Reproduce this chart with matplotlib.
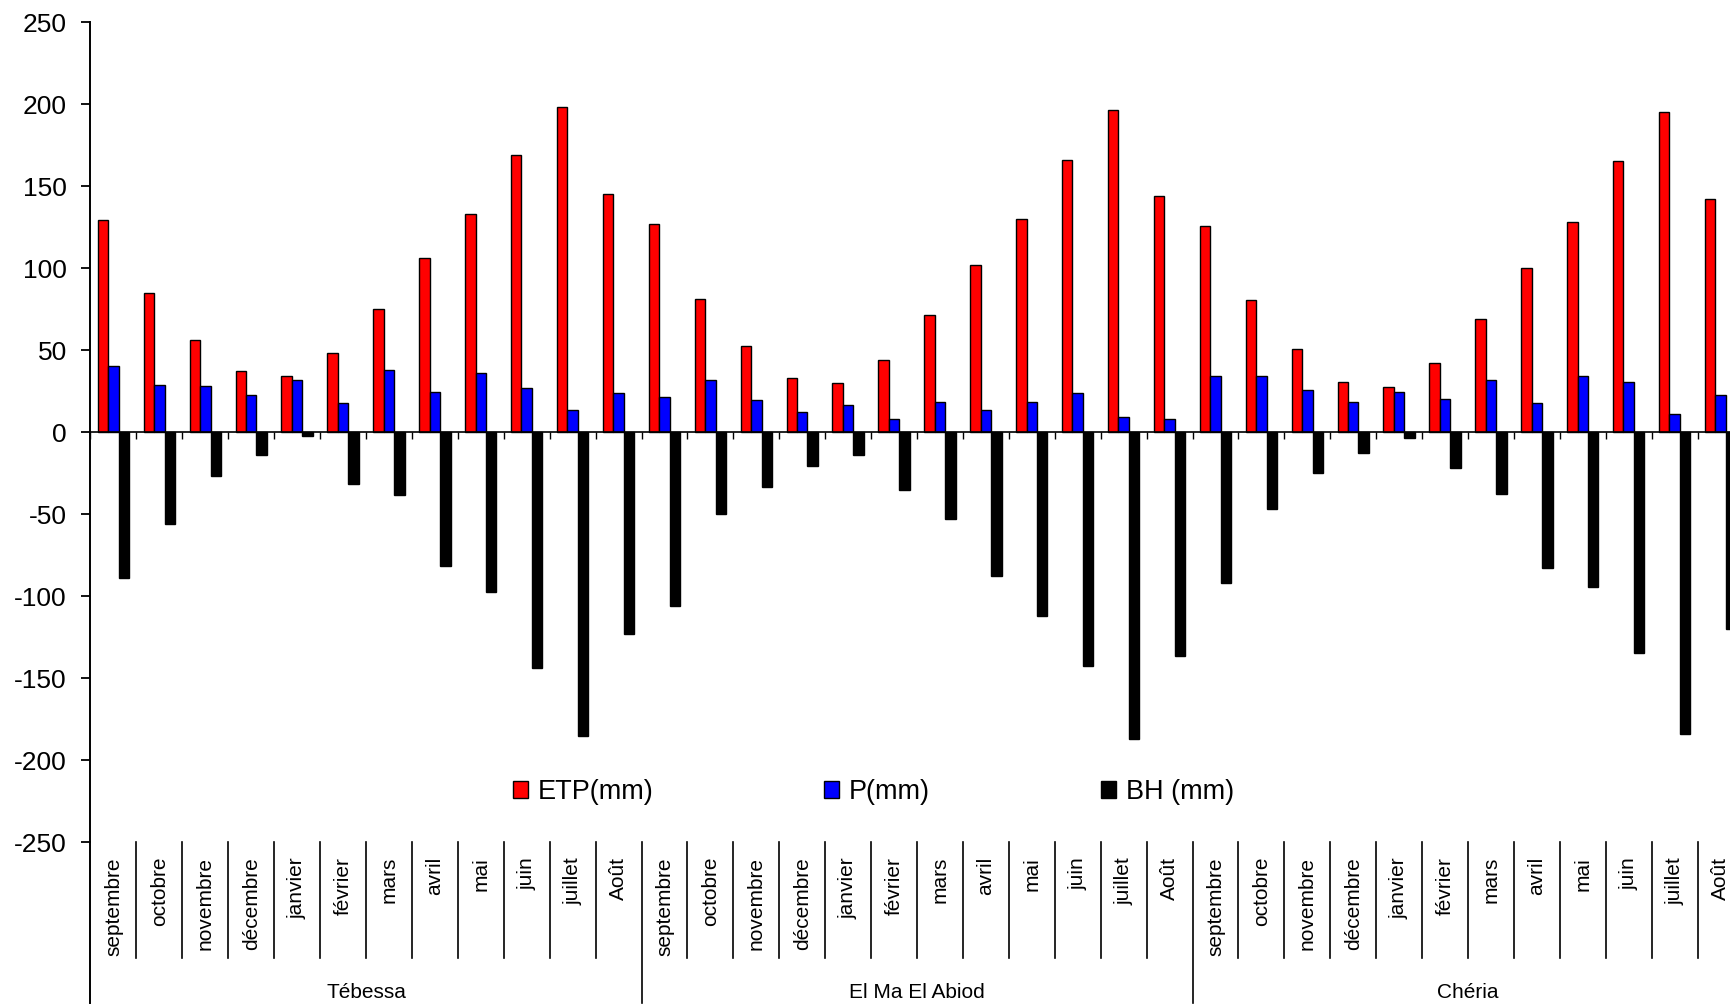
import matplotlib
matplotlib.use("Agg")
import matplotlib.pyplot as plt
import matplotlib.transforms as mtransforms
from matplotlib.lines import Line2D
import numpy as np

plt.rcParams['font.family'] = ['Liberation Sans', 'DejaVu Sans']
plt.rcParams['axes.unicode_minus'] = False

stations = ["Tébessa", "El Ma El Abiod", "Chéria"]
months = ["septembre", "octobre", "novembre", "décembre", "janvier", "février",
          "mars", "avril", "mai", "juin", "juillet", "Août"]

etp_tebessa = [129.1, 84.7, 55.8, 37.0, 33.9, 48.4, 74.9, 106.1, 132.8, 168.8, 197.9, 145.2]
p_tebessa = [40.2, 28.6, 27.8, 22.5, 32.0, 17.5, 38.1, 24.6, 36.0, 26.7, 13.2, 23.5]
bh_tebessa = [-89.2, -56.1, -27.0, -13.8, -2.4, -31.5, -38.6, -82.0, -97.6, -143.9, -185.2, -123.0]

etp_elma = [126.7, 81.2, 52.4, 33.1, 29.9, 44.2, 71.2, 102.1, 129.9, 166.1, 196.3, 143.7]
p_elma = [21.4, 32.0, 19.6, 12.4, 16.4, 8.2, 18.5, 13.2, 18.5, 23.8, 9.3, 8.2]
bh_elma = [-105.8, -50.0, -33.3, -20.9, -14.0, -35.4, -53.2, -88.1, -111.9, -142.9, -187.3, -136.5]

etp_cheria = [125.7, 80.2, 50.5, 30.7, 27.5, 42.1, 69.0, 100.0, 128.0, 165.3, 195.0, 142.3]
p_cheria = [33.9, 33.9, 25.9, 18.5, 24.6, 20.4, 32.0, 17.5, 33.9, 30.7, 11.1, 22.5]
bh_cheria = [-92.1, -46.8, -25.1, -12.7, -3.4, -22.0, -37.8, -83.1, -94.4, -134.7, -184.1, -120.4]

series_names = ["ETP(mm)", "P(mm)", "BH (mm)"]
series_colors = ["#FF0000", "#0000FF", "#000000"]
yticks = [-250, -200, -150, -100, -50, 0, 50, 100, 150, 200, 250]

etp = etp_tebessa + etp_elma + etp_cheria
p = p_tebessa + p_elma + p_cheria
bh = bh_tebessa + bh_elma + bh_cheria

W, H = 1731, 1006
fig = plt.figure(figsize=(W / 100, H / 100), dpi=100)
ax = fig.add_axes([90.5 / W, 1 - 842 / H, 1653 / W, 820 / H])

n = len(etp)
x = np.arange(n) + 0.5
bw = 0.227
for k, (vals, name, col) in enumerate(zip([etp, p, bh], series_names, series_colors)):
    ax.bar(x + (k - 1) * bw, vals, width=bw, color=col, edgecolor="black",
           linewidth=1.0, label=name, zorder=3)

ax.set_xlim(0, n)
ax.set_ylim(-250, 250)
ax.set_yticks(yticks)
ax.set_yticklabels([str(v) for v in yticks])

for s in ["top", "right"]:
    ax.spines[s].set_visible(False)
ax.spines["left"].set_linewidth(1.4)
ax.spines["bottom"].set_position(("data", 0))
ax.spines["bottom"].set_linewidth(1.2)
ax.spines["bottom"].set_zorder(4)

ax.set_xticks(np.arange(0, n + 1))
ax.set_xticklabels([])
ax.tick_params(axis="x", direction="out", length=5, width=1.0)
ax.tick_params(axis="y", direction="out", length=6.5, width=1.3, pad=10.5,
               labelsize=19)

# category labels below the plot
trans = mtransforms.blended_transform_factory(ax.transData, fig.transFigure)
y_axis_bottom = 1 - 842 / H
for g, st in enumerate(stations):
    for m, mon in enumerate(months):
        i = g * 12 + m
        ax.text(i + 0.5, 1 - 857 / H, mon, rotation=90, ha="center", va="top",
                fontsize=15, transform=trans, clip_on=False)
    ax.text(g * 12 + 6, 1 - 993 / H, st, ha="center", va="center",
            fontsize=15, transform=trans, clip_on=False)

for b in range(0, n + 1):
    if b % 12 == 0:
        y_end = 1 - 1003 / H
        lw = 1.4 if b == 0 else 1.2
    else:
        y_end = 1 - 958 / H
        lw = 1.2
    ax.add_line(Line2D([b, b], [y_axis_bottom, y_end], transform=trans,
                       color="black", linewidth=lw, clip_on=False))

leg = fig.legend(loc="center left", bbox_to_anchor=(513 / W, 1 - 792 / H),
                 ncol=3, frameon=False, fontsize=19.5, borderpad=0,
                 borderaxespad=0, handlelength=0.55, handleheight=0.55,
                 handletextpad=0.37, columnspacing=6.3)

fig.savefig("out.png", dpi=100)
